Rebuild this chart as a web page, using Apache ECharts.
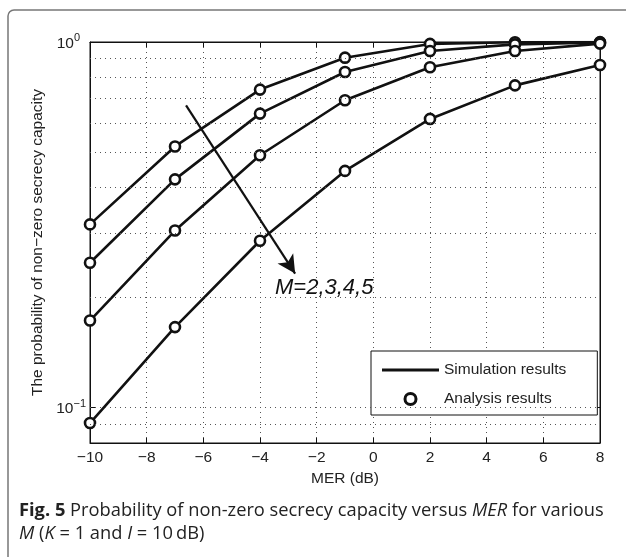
<!DOCTYPE html>
<html style="height: 100%">
<head>
    <meta charset="utf-8">
    <title>Probability of non-zero secrecy capacity</title>
    <script type="text/javascript" src="https://cdn.jsdelivr.net/npm/echarts@6/dist/echarts.min.js"></script>
</head>
<body style="width: 100%;margin: 0;height: 100%;background: #fff">
<div id="container" style="width: 626px;height: 557px"></div>
<script type="application/javascript">

    // MER (dB) sample points
    var mer = [-10, -7, -4, -1, 2, 5, 8];
    // probability values, M = 2,3,4,5
    var m2 = [0.317, 0.518, 0.741, 0.906, 0.988, 0.998, 0.999];
    var m3 = [0.249, 0.421, 0.637, 0.828, 0.945, 0.985, 0.997];
    var m4 = [0.173, 0.305, 0.490, 0.693, 0.853, 0.945, 0.990];
    var m5 = [0.0907, 0.166, 0.286, 0.444, 0.616, 0.761, 0.865];
    var curves = [m2, m3, m4, m5];

    var xTicks = [-10, -8, -6, -4, -2, 0, 2, 4, 6, 8];
    var yGrid = [0.09, 0.1, 0.2, 0.3, 0.4, 0.5, 0.6, 0.7, 0.8, 0.9];
    var arrowFrom = [-6.61, 0.671];
    var arrowTo = [-2.76, 0.2326];

    var font = '"Liberation Sans", Arial, sans-serif';
    var fs = 15.5;

    function pairs(ys) {
        var out = [];
        for (var i = 0; i < mer.length; i++) {
            out.push([mer[i], ys[i]]);
        }
        return out;
    }

    var series = [];

    // dotted grid lines on the log axis
    series.push({
        type: 'line',
        data: [],
        z: 1,
        silent: true,
        markLine: {
            silent: true,
            symbol: 'none',
            label: {show: false},
            lineStyle: {color: '#555', type: [1, 4], width: 1},
            data: yGrid.map(function (v) {
                return {yAxis: v};
            })
        }
    });

    for (var i = 0; i < curves.length; i++) {
        series.push({
            name: 'Simulation results',
            type: 'line',
            symbol: 'none',
            z: 3,
            lineStyle: {color: '#111', width: 2.6},
            itemStyle: {color: '#111'},
            data: pairs(curves[i])
        });
    }
    for (var j = 0; j < curves.length; j++) {
        series.push({
            name: 'Analysis results',
            type: 'scatter',
            symbol: 'circle',
            symbolSize: 10,
            z: 4,
            itemStyle: {color: '#fff', borderColor: '#111', borderWidth: 2.6, opacity: 1},
            data: pairs(curves[j])
        });
    }

    // arrow across the curves
    series.push({
        type: 'line',
        data: [],
        z: 5,
        markLine: {
            silent: true,
            symbol: ['none', 'arrow'],
            symbolSize: [14, 18],
            label: {show: false},
            lineStyle: {color: '#111', type: 'solid', width: 2.2},
            data: [[{coord: arrowFrom}, {coord: arrowTo}]]
        }
    });

    var option = {
        animation: false,
        backgroundColor: '#fff',
        textStyle: {fontFamily: font},
        grid: {
            left: 90, top: 42, right: 26, bottom: 114,
            show: true, borderColor: '#111', borderWidth: 1, backgroundColor: 'transparent'
        },
        legend: {
            data: [{
                name: 'Simulation results',
                icon: 'path://M0,0 L57,0 L57,3 L0,3 Z',
                itemStyle: {color: '#111', borderWidth: 0}
            }, {
                name: 'Analysis results',
                icon: 'circle',
                itemStyle: {color: '#fff', borderColor: '#111', borderWidth: 3}
            }],
            orient: 'vertical',
            left: 371,
            top: 351,
            padding: [11, 31, 8, 11],
            itemWidth: 57,
            itemHeight: 11,
            itemGap: 13,
            borderColor: '#111',
            borderWidth: 1,
            backgroundColor: '#fff',
            selectedMode: false,
            textStyle: {fontSize: fs, color: '#222', fontFamily: font}
        },
        xAxis: [{
            type: 'value',
            min: -10,
            max: 8,
            interval: 2,
            name: 'MER (dB)',
            nameLocation: 'middle',
            nameGap: 26,
            nameTextStyle: {fontSize: fs, color: '#222', fontFamily: font},
            axisLine: {onZero: false, lineStyle: {color: '#111', width: 1}},
            axisTick: {inside: true, length: 5, lineStyle: {color: '#111'}},
            axisLabel: {
                fontSize: fs, color: '#222', margin: 7, fontFamily: font,
                formatter: function (v) {
                    return xTicks.indexOf(v) >= 0 ? String(v).replace('-', '\u2212') : '';
                }
            },
            splitLine: {show: true, lineStyle: {color: '#555', type: [1, 4], width: 1}}
        }, {
            type: 'value',
            position: 'top',
            min: -10,
            max: 8,
            interval: 2,
            axisLine: {onZero: false, lineStyle: {color: '#111'}},
            axisTick: {inside: true, length: 5, lineStyle: {color: '#111'}},
            axisLabel: {show: false},
            splitLine: {show: false}
        }],
        yAxis: [{
            type: 'log',
            logBase: 10,
            min: 0.08,
            max: 1,
            name: 'The probability of non\u2212zero secrecy capacity',
            nameLocation: 'middle',
            nameGap: 40,
            nameTextStyle: {fontSize: fs, color: '#222', fontFamily: font},
            axisLine: {onZero: false, lineStyle: {color: '#111', width: 1}},
            axisTick: {inside: true, length: 5, lineStyle: {color: '#111'}},
            axisLabel: {
                margin: 4,
                showMinLabel: false,
                formatter: function (v) {
                    if (Math.abs(v - 1) < 1e-9) return '{b|10}{sup0|0}';
                    if (Math.abs(v - 0.1) < 1e-9) return '{b|10}{sup1|\u22121}';
                    return '';
                },
                rich: {
                    b: {fontSize: fs, color: '#222', fontFamily: font, verticalAlign: 'bottom'},
                    sup0: {fontSize: 11, color: '#222', fontFamily: font,
                        verticalAlign: 'bottom', padding: [0, 6, 8, 0]},
                    sup1: {fontSize: 11, color: '#222', fontFamily: font,
                        verticalAlign: 'bottom', padding: [0, 0, 8, 0]}
                }
            },
            splitLine: {show: false}
        }, {
            type: 'log',
            logBase: 10,
            min: 0.08,
            max: 1,
            position: 'right',
            axisLine: {onZero: false, lineStyle: {color: '#111'}},
            axisTick: {inside: true, length: 5, lineStyle: {color: '#111'}},
            axisLabel: {show: false},
            splitLine: {show: false}
        }],
        graphic: [{
            type: 'rect',
            silent: true,
            shape: {x: 8, y: 10, width: 700, height: 700, r: 6},
            style: {fill: 'none', stroke: '#777', lineWidth: 1.5},
            z: -1
        }, {
            type: 'text',
            left: 275,
            top: 277,
            silent: true,
            style: {
                text: 'M=2,3,4,5',
                font: 'italic 22px ' + font,
                fill: '#111'
            },
            z: 10
        }, {
            type: 'text',
            left: 19,
            top: 499,
            silent: true,
            style: {
                text: '{b|Fig. 5} Probability of non-zero secrecy capacity versus {i|MER} for various\n{i|M} ({i|K} = 1 and {i|I} = 10\u2009dB)',
                font: '18.3px "Open Sans", sans-serif',
                fill: '#222',
                lineHeight: 23,
                rich: {
                    b: {font: 'bold 18.3px "Open Sans", sans-serif', fill: '#222'},
                    i: {font: 'italic 18.3px "Open Sans", sans-serif', fill: '#222'}
                }
            }
        }],
        series: series
    };

    var dom = document.getElementById("container");
    var myChart = echarts.init(dom, null, {renderer: 'canvas'});
    myChart.setOption(option);
</script>
</body>
</html>
